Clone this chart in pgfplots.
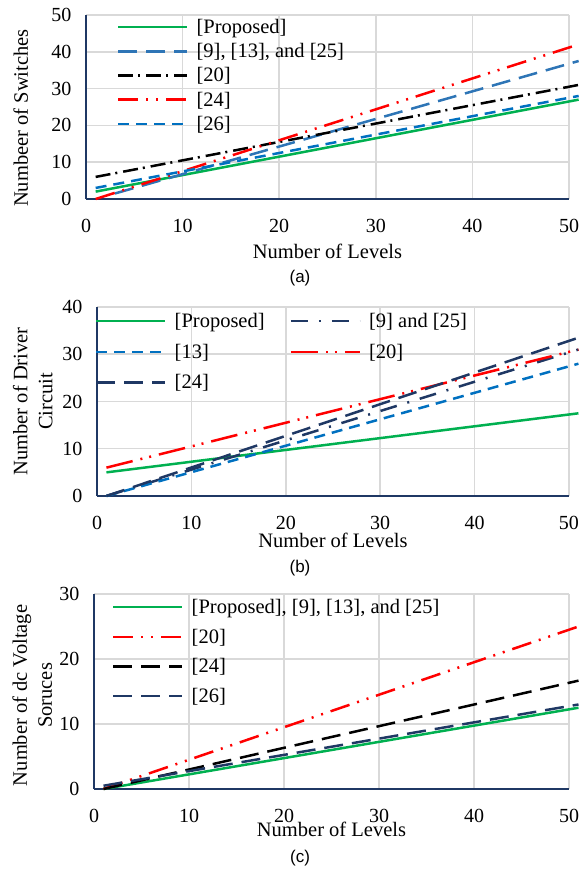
\documentclass[border=0pt]{standalone}
\usepackage{fontspec}
\setmainfont{Liberation Serif}
\newfontfamily\capfont{Liberation Sans}
\usepackage{pgfplots}
\pgfplotsset{compat=1.18}
\definecolor{cgreen}{HTML}{00B050}
\definecolor{cblue}{HTML}{2E75B6}
\definecolor{cblueb}{HTML}{0070C0}
\definecolor{cred}{HTML}{FF0000}
\definecolor{cnavy}{HTML}{1F3864}
\definecolor{cgrid}{HTML}{D9D9D9}
\pgfplotsset{
 base/.style={
  scale only axis, xmin=0, xmax=50, ymin=0, clip=false,
  xtick={0,10,...,50},
  axis x line*=bottom, axis y line*=left,
  axis line style={-, draw=cnavy, line width=2bp},
  grid=major, major grid style={cgrid, line width=1.5bp},
  major tick length=0pt,
  tick label style={font=\fontsize{20bp}{24bp}\selectfont},
  xticklabel style={yshift=-17bp},
  yticklabel style={xshift=-11bp},
  label style={font=\fontsize{20.5bp}{25bp}\selectfont},
  /pgf/number format/assume math mode=true,
  legend cell align=left,
  legend style={draw=none, fill=none, inner sep=0pt, font=\fontsize{20.5bp}{24bp}\selectfont,
     nodes={inner sep=1bp}, column sep=7bp},
  legend image code/.code={\draw[##1] (0bp,0bp) -- (69bp,0bp);},
  every axis plot/.append style={line width=2.5bp},
 },
 longdash/.style={dash pattern=on 19bp off 9bp},
 shortdash/.style={dash pattern=on 11bp off 7bp},
 dashdota/.style={dash pattern=on 15bp off 5bp on 2bp off 6bp},
 dashdotb/.style={dash pattern=on 17bp off 11bp on 2bp off 11bp},
 dashdotdot/.style={dash pattern=on 20bp off 8bp on 2bp off 8bp on 2bp off 8bp},
 dashdotdotb/.style={dash pattern=on 27bp off 8bp on 2bp off 7bp on 2bp off 8bp},
}
\begin{document}
\begin{tikzpicture}
\useasboundingbox (0bp,0bp) rectangle (588bp,869bp);
% (a)
\begin{axis}[base, at={(86bp,670bp)}, anchor=south west, width=483bp, height=184bp,
  ymax=50, ytick={0,10,...,50},
  ylabel={Numbeer of Switches}, xlabel={Number of Levels},
  ylabel style={at={(axis description cs:-0.135,0.44)}, anchor=center},
  xlabel style={at={(axis description cs:0.5,0)}, anchor=center, yshift=-52bp},
  legend style={at={(axis description cs:0.064,1)}, anchor=north west, yshift=-3bp, row sep=6.5bp}]
\addplot[cgreen] coordinates {(1,2) (11,7) (21,12) (31,17) (41,22) (51,27)};
\addlegendentry{[Proposed]}
\addplot[cblue, longdash] coordinates {(3,1.5) (11,7.5) (21,15) (31,22.5) (41,30) (51,37.5)};
\addlegendentry{[9], [13], and [25]}
\addplot[black, dashdota] coordinates {(1,6) (11,11) (21,16) (31,21) (41,26) (51,31)};
\addlegendentry{[20]}
\addplot[cred, dashdotdot] coordinates {(1,0) (11,8.4) (21,16.8) (31,25.2) (41,33.6) (51,42)};
\addlegendentry{[24]}
\addplot[cblueb, shortdash] coordinates {(1,3) (11,8) (21,13) (31,18) (41,23) (51,28)};
\addlegendentry{[26]}
\end{axis}
% (b)
\begin{axis}[base, at={(97bp,373bp)}, anchor=south west, width=472bp, height=189bp,
  ymax=40, ytick={0,10,...,40},
  ylabel={Number of Driver\\Circuit}, xlabel={Number of Levels},
  ylabel style={at={(axis description cs:-0.136,0.5)}, anchor=center, align=center},
  xlabel style={at={(axis description cs:0.5,0)}, anchor=center, yshift=-44bp},
  legend columns=2,
  legend style={at={(axis description cs:0,1)}, anchor=north west, xshift=-2bp, yshift=-5bp, row sep=13bp,
    /tikz/every even column/.append style={column sep=24bp}}]
\addplot[cgreen] coordinates {(1,5) (11,7.5) (21,10) (31,12.5) (41,15) (51,17.5)};
\addlegendentry{[Proposed]}
\addplot[cnavy, dashdotb] coordinates {(1,0) (11,6.2) (21,12.4) (31,18.6) (41,24.8) (51,31)};
\addlegendentry{[9] and [25]}
\addplot[cblueb, shortdash] coordinates {(1,0) (11,5.6) (21,11.2) (31,16.8) (41,22.4) (51,28)};
\addlegendentry{[13]}
\addplot[cred, dashdotdotb] coordinates {(1,6) (11,11) (21,16) (31,21) (41,26) (51,31)};
\addlegendentry{[20]}
\addplot[cnavy, longdash] coordinates {(1,0) (11,6.7) (21,13.4) (31,20.1) (41,26.8) (51,33.5)};
\addlegendentry{[24]}
\end{axis}
% (c)
\begin{axis}[base, at={(94bp,80bp)}, anchor=south west, width=475bp, height=195bp,
  ymax=30, ytick={0,10,...,30},
  ylabel={Number of dc Voltage\\Soruces}, xlabel={Number of Levels},
  ylabel style={at={(axis description cs:-0.13,0.48)}, anchor=center, align=center},
  xlabel style={at={(axis description cs:0.5,0)}, anchor=center, yshift=-40bp},
  legend style={at={(axis description cs:0.038,1)}, anchor=north west, yshift=-4bp, row sep=12bp}]
\addplot[cgreen] coordinates {(1,0) (11,2.5) (21,5) (31,7.5) (41,10) (51,12.5)};
\addlegendentry{[Proposed], [9], [13], and [25]}
\addplot[cred, dashdotdot] coordinates {(1,0) (11,5) (21,10) (31,15) (41,20) (51,25)};
\addlegendentry{[20]}
\addplot[black, longdash] coordinates {(1,0) (11,3.33) (21,6.67) (31,10) (41,13.33) (51,16.67)};
\addlegendentry{[24]}
\addplot[cnavy, longdash] coordinates {(1,0.5) (11,3) (21,5.5) (31,8) (41,10.5) (51,13)};
\addlegendentry{[26]}
\end{axis}
\node[font=\capfont\fontsize{17bp}{20bp}\selectfont] at (300bp,591bp) {(a)};
\node[font=\capfont\fontsize{17bp}{20bp}\selectfont] at (300bp,301bp) {(b)};
\node[font=\capfont\fontsize{17bp}{20bp}\selectfont] at (300bp,11bp) {(c)};
\end{tikzpicture}
\end{document}
